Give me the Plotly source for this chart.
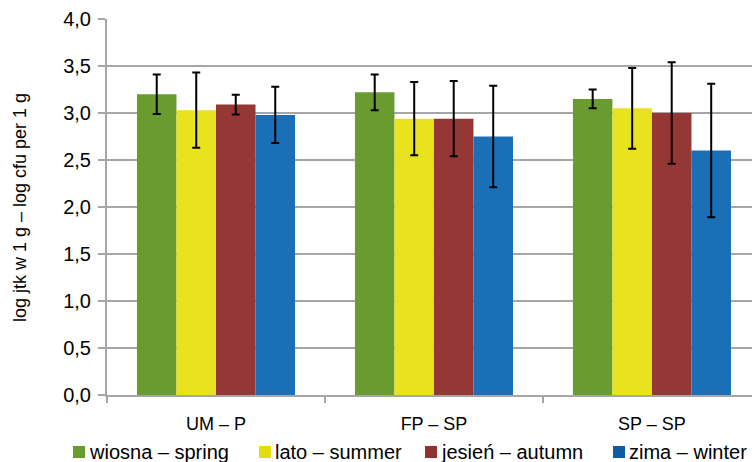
import plotly.graph_objects as go

categories = ["UM – P", "FP – SP", "SP – SP"]
series_names = ["wiosna – spring", "lato – summer", "jesień – autumn", "zima – winter"]
spring = [3.20, 3.22, 3.15]
summer = [3.03, 2.94, 3.05]
autumn = [3.09, 2.94, 3.00]
winter = [2.98, 2.75, 2.60]
spring_err = [0.21, 0.19, 0.10]
summer_err = [0.40, 0.39, 0.43]
autumn_err = [0.105, 0.40, 0.54]
winter_err = [0.30, 0.54, 0.71]
y_ticks = [0.0, 0.5, 1.0, 1.5, 2.0, 2.5, 3.0, 3.5, 4.0]
y_tick_labels = ["0,0", "0,5", "1,0", "1,5", "2,0", "2,5", "3,0", "3,5", "4,0"]

colors = ["#699b2f", "#e9e21f", "#943735", "#1a6fb7"]
legend_colors = ["#699b2f", "#e2dc10", "#8f3331", "#0d5ca3"]
values = [spring, summer, autumn, winter]
errors = [spring_err, summer_err, autumn_err, winter_err]

fig = go.Figure()
for name, v, e, c in zip(series_names, values, errors, colors):
    fig.add_trace(go.Bar(
        x=categories, y=v, name=name,
        marker=dict(color=c, line=dict(width=0)),
        error_y=dict(type="data", array=e, visible=True, color="black", thickness=2, width=4),
    ))

# plot area geometry (pixels) for legend/title placement
L, T, W, H = 107, 19, 645, 376
legend_x_px = [73, 259, 425, 613]
legend_y_px = 452

def px_x(p):
    return (p - L) / W

def px_y(p):
    return (T + H - p) / H

shapes = []
annotations = []
for name, lc, xp in zip(series_names, legend_colors, legend_x_px):
    shapes.append(dict(type="rect", xref="paper", yref="paper",
                       x0=px_x(xp), x1=px_x(xp + 12), y0=px_y(legend_y_px + 6), y1=px_y(legend_y_px - 6),
                       fillcolor=lc, line=dict(width=0)))
    annotations.append(dict(xref="paper", yref="paper", x=px_x(xp + 14), y=px_y(legend_y_px),
                            xanchor="left", yanchor="middle", showarrow=False, text=name,
                            font=dict(size=20)))
annotations.append(dict(xref="paper", yref="paper", x=px_x(20), y=0.5, xanchor="center", yanchor="middle",
                        showarrow=False, textangle=-90, text="log jtk w 1 g – log cfu per 1 g",
                        font=dict(size=18)))

grid = "#a6a6a6"
fig.update_layout(
    width=752, height=462,
    margin=dict(l=L, r=0, t=T, b=462 - T - H),
    paper_bgcolor="white", plot_bgcolor="white",
    barmode="group", bargap=0.275, bargroupgap=0,
    font=dict(family="Liberation Sans, Arial, sans-serif", size=18, color="black"),
    showlegend=False,
    shapes=shapes, annotations=annotations,
    xaxis=dict(range=[-0.5, 2.459], showline=True, linecolor=grid, linewidth=2,
               ticks="outside", tickson="boundaries", ticklen=6, tickcolor=grid, tickwidth=2,
               showgrid=False, tickfont=dict(size=18), ticklabelstandoff=11),
    yaxis=dict(range=[0, 4.0], tickvals=y_ticks, ticktext=y_tick_labels,
               showline=True, linecolor=grid, linewidth=2,
               ticks="outside", ticklen=7, tickcolor=grid, tickwidth=2,
               showgrid=True, gridcolor=grid, gridwidth=2,
               ticklabelstandoff=3, tickfont=dict(size=20)),
)

fig.write_html("out.html")
